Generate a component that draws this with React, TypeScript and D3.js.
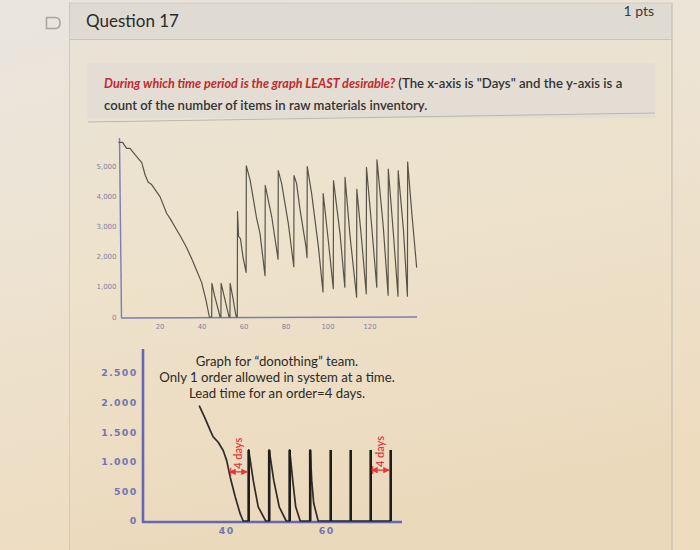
import React from "react";
import * as d3 from "d3";

// ---- top chart: raw materials inventory (days, count)
const topSeries: [number, number][] = [
  [0.2, 5800], [2.2, 5800], [4.1, 5600], [5.7, 5600], [8, 5400], [11.3, 5130],
  [13, 4700], [14.4, 4480], [16, 4400], [18, 4200], [20, 4000], [23.2, 3440],
  [25, 3250], [27.9, 2900], [30, 2650], [32.7, 2300], [35, 1950], [37.5, 1540],
  [39.8, 1150], [41.9, 560], [43.5, 0],
  [44.6, 0], [44.7, 1120], [46, 700], [47.5, 300], [48.6, 0],
  [49, 0], [49.1, 1120], [50.5, 700], [52, 250], [52.9, 0],
  [53.3, 0], [53.4, 1120], [54.8, 600], [56, 100], [56.4, 0],
  [56.8, 0], [56.9, 3500], [57.4, 2680], [58.3, 2600], [59.5, 2000], [61, 1480],
  [61.1, 5020], [62.9, 4550], [66, 3280], [67.6, 2780], [70, 1370],
  [70.1, 4370], [73.2, 3330], [76.2, 1920],
  [76.3, 4860], [77.9, 4440], [81.1, 3100], [83.7, 1670],
  [83.8, 4700], [85, 4440], [86.7, 3550], [89.5, 2340], [90, 1970],
  [90.1, 5000], [92.2, 4100], [95.4, 2340], [97.6, 830],
  [97.7, 4100], [100.1, 2560], [102.5, 940],
  [102.6, 4530], [105.7, 2780], [108, 990],
  [108.1, 4640], [110.5, 2670], [113.6, 660],
  [113.7, 4240], [116, 2560], [118.2, 770],
  [118.3, 4970], [120.8, 3000], [123.2, 990],
  [123.3, 5220], [126.3, 3000], [128.6, 720],
  [128.7, 4910], [131.1, 2780], [133.3, 690],
  [133.4, 4860], [135.9, 2900], [137.8, 690],
  [137.9, 5150], [139.9, 3440], [142.2, 1640],
];
const topXTicks = [20, 40, 60, 80, 100, 120];
const topYTicks = [0, 1000, 2000, 3000, 4000, 5000];

// ---- bottom chart: "donothing" team
const bottomCurve: [number, number][] = [
  [34.5, 1950], [35.7, 1730], [36.7, 1530], [37.3, 1420], [38.3, 1330],
  [39.3, 1190], [40, 1020], [40.7, 740], [41.7, 410], [42.7, 120], [43.3, 0],
  [44.4, 0], [44.4, 1200], [45.3, 690], [46.3, 240], [47.8, 0],
  [48.5, 0], [48.5, 1200], [49.4, 690], [50.5, 240], [51.9, 0],
  [52.6, 0], [52.6, 1200], [53.2, 690], [53.8, 240], [54.7, 0],
  [56.7, 0], [56.7, 1200], [57.0, 690], [57.4, 300], [58.3, 0],
  [72.8, 0],
];
const orderDays = [44.4, 48.5, 52.6, 56.7, 60.8, 64.8, 68.8, 72.8];
const orderPeak = 1200;
const bottomXTicks = [40, 60];
const bottomYTicks = [0, 500, 1000, 1500, 2000, 2500];
const bottomYLabels = ["0", "500", "1.000", "1.500", "2.000", "2.500"];
const leadSpans: [number, number, number][] = [
  [40.4, 44.4, 830],
  [68.8, 72.8, 860],
];
const noteLines = [
  "Graph for \u201cdonothing\u201d team.",
  "Only 1 order allowed in system at a time.",
  "Lead time for an order=4 days.",
];

const LATO = "Lato, 'Noto Sans', sans-serif";

export default function App() {
  const tx = d3.scaleLinear().domain([0, 142.5]).range([118, 417.3]);
  const ty = d3.scaleLinear().domain([0, 5000]).range([317, 166.5]);
  const topLine = d3
    .line<[number, number]>()
    .x((d) => tx(d[0]))
    .y((d) => ty(d[1]));

  const bx = d3.scaleLinear().domain([40, 60]).range([226.7, 326.7]);
  const by = d3.scaleLinear().domain([0, 2500]).range([521, 373]);
  const bottomLine = d3
    .line<[number, number]>()
    .x((d) => bx(d[0]))
    .y((d) => by(d[1]));

  const red = "#e5363f";

  return (
    <svg width={700} height={550} style={{ position: "absolute", left: 0, top: 0 }}>
      <defs>
        <linearGradient id="bg" x1="0" y1="0" x2="0.3" y2="1">
          <stop offset="0" stopColor="#e9e5de" />
          <stop offset="0.45" stopColor="#ede3d2" />
          <stop offset="1" stopColor="#eedcbf" />
        </linearGradient>
        <linearGradient id="box" x1="0" y1="0" x2="0.2" y2="1">
          <stop offset="0" stopColor="#e8e2d8" />
          <stop offset="0.5" stopColor="#eee2cc" />
          <stop offset="1" stopColor="#ebd9bc" />
        </linearGradient>
        <marker id="ah" viewBox="0 0 6 6" refX="5.5" refY="3" markerWidth="5" markerHeight="5" orient="auto-start-reverse">
          <path d="M0,0 L6,3 L0,6 z" fill={red} />
        </marker>
      </defs>

      {/* photo background */}
      <rect x={0} y={0} width={700} height={550} fill="url(#bg)" />
      <rect x={69} y={3} width={603} height={547} fill="url(#box)" />
      <rect x={69} y={3} width={603} height={36} fill="#dfdad2" />
      <line x1={69} y1={39.5} x2={672} y2={39.5} stroke="#c9c3b9" strokeWidth={1} />
      <line x1={69.5} y1={3} x2={69.5} y2={550} stroke="#cfc9bf" strokeWidth={1} />
      <line x1={672} y1={3} x2={672} y2={550} stroke="#c6bfb3" strokeWidth={1.2} />
      <line x1={69} y1={3} x2={672} y2={3} stroke="#d0cac0" strokeWidth={1} />
      <rect x={87} y={63} width={568} height={55} fill="#e3ddd3" />
      <line x1={88} y1={122} x2={655} y2={113} stroke="#bdb6ab" strokeWidth={1} />

      {/* flag icon */}
      <path d="M46.5,17.5 H55 Q60,17.5 60,23 Q60,28.5 55,28.5 H46.5 Z" fill="none" stroke="#a9a7a4" strokeWidth={1.6} />

      <text x={86} y={27} fontFamily={LATO} fontSize={17} fill="#2a2a2a">Question 17</text>
      <text x={654} y={16} fontFamily={LATO} fontSize={14} fill="#3a3a3a" textAnchor="end">1 pts</text>

      <text x={104} y={88} fontFamily={LATO} fontSize={12.6} fill="#333">
        <tspan fill="#c3292e" fontStyle="italic" fontWeight={700}>During which time period is the graph LEAST desirable?</tspan>
        <tspan fontWeight={600} fontSize={13.2}> (The x-axis is "Days" and the y-axis is a</tspan>
      </text>
      <text x={104} y={110} fontFamily={LATO} fontSize={13.1} fontWeight={600} fill="#333">
        count of the number of items in raw materials inventory.
      </text>

      {/* ---- top chart ---- */}
      <g>
        <line x1={119.5} y1={138} x2={121.5} y2={318} stroke="#7e7cb4" strokeWidth={1.4} />
        <line x1={121} y1={318} x2={417} y2={317} stroke="#7e7cb4" strokeWidth={1.4} />
        {topYTicks.map((v) => (
          <text key={v} x={116.5} y={ty(v) + 2.5} fontFamily="'DejaVu Sans', sans-serif" fontSize={7} fill="#7f81a3" textAnchor="end">
            {d3.format(",")(v)}
          </text>
        ))}
        {topXTicks.map((v) => (
          <text key={v} x={tx(v)} y={329} fontFamily="'DejaVu Sans', sans-serif" fontSize={6.8} fill="#7f81a3" textAnchor="middle">
            {v}
          </text>
        ))}
        <path d={topLine(topSeries) ?? ""} fill="none" stroke="#595449" strokeWidth={1.2} strokeLinejoin="round" />
      </g>

      {/* ---- bottom chart ---- */}
      <g>
        <line x1={143} y1={349} x2={143} y2={522.5} stroke="#6765b6" strokeWidth={2.6} />
        <line x1={142} y1={522} x2={402} y2={522} stroke="#6765b6" strokeWidth={2.6} />
        {bottomYTicks.map((v, i) => (
          <text key={v} x={137.5} y={by(v) + 3.4} fontFamily="'DejaVu Sans', sans-serif" fontWeight={700} fontSize={9.4} letterSpacing={1.3} fill="#7274b4" textAnchor="end">
            {bottomYLabels[i]}
          </text>
        ))}
        {bottomXTicks.map((v) => (
          <text key={v} x={bx(v)} y={534} fontFamily="'DejaVu Sans', sans-serif" fontWeight={700} fontSize={9.4} letterSpacing={1.3} fill="#7274b4" textAnchor="middle">
            {v}
          </text>
        ))}
        <path d={bottomLine(bottomCurve) ?? ""} fill="none" stroke="#2e2c28" strokeWidth={1.7} strokeLinejoin="round" />
        {orderDays.map((d) => (
          <line key={d} x1={bx(d)} x2={bx(d)} y1={by(0)} y2={by(orderPeak)} stroke="#1f1e1b" strokeWidth={2.6} />
        ))}

        {leadSpans.map(([a, b, v], i) => (
          <g key={i}>
            <line x1={bx(a) + 1} x2={bx(b) - 1.5} y1={by(v)} y2={by(v)} stroke={red} strokeWidth={1.3} markerStart="url(#ah)" markerEnd="url(#ah)" />
            <line x1={bx(a) + 2} x2={bx(a) + 2} y1={by(v) - 4} y2={by(v) + 4} stroke={red} strokeWidth={1.2} />
            <text
              transform={`translate(${bx((a + b) / 2) + 3.5},${by(v) - 3}) rotate(-90)`}
              fontFamily={LATO}
              fontSize={11}
              fontWeight={600}
              fill={red}
            >
              4 days
            </text>
          </g>
        ))}

        {noteLines.map((t, i) => (
          <text key={i} x={277} y={366 + i * 16} fontFamily={LATO} fontSize={13.2} fill="#2b2a27" textAnchor="middle">
            {t}
          </text>
        ))}
      </g>
    </svg>
  );
}
